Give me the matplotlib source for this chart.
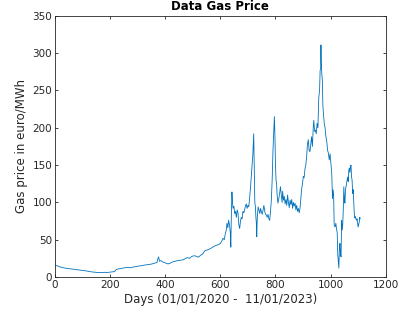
import matplotlib
matplotlib.use("Agg")
import matplotlib.pyplot as plt

days = [0, 3, 8, 15, 25, 35, 45, 52, 60, 70, 80, 90, 100, 110, 120, 130, 140, 150, 160, 170, 180, 190, 200, 210, 216, 222, 230, 240, 246, 255, 265, 275, 285, 295, 305, 315, 325, 335, 345, 355, 365, 370, 373, 376, 379, 385, 392, 400, 410, 418, 425, 435, 445, 455, 464, 472, 480, 488, 496, 504, 512, 520, 528, 536, 543, 550, 558, 566, 574, 582, 590, 597,
        600, 605, 610, 614, 618, 621, 624, 627, 630, 633, 636, 638, 640, 642, 644, 646, 649, 652, 655, 658, 661, 664, 667, 670, 673, 676, 679, 682, 685, 688, 691, 694, 697, 700, 703, 706, 709, 712, 715, 718, 720, 721, 723, 725, 727, 729, 731, 732, 734, 737, 740, 743, 746, 749, 752, 755, 758, 761, 764, 767, 770, 773, 776, 779, 782, 785, 788, 791, 794, 796, 798, 800, 802, 804, 806, 809, 812, 815, 818, 821, 824, 826, 829, 832, 835, 838, 841, 844, 847, 850, 853, 856, 859, 862, 865, 868, 871, 874, 877, 880, 883, 886, 889, 892, 895, 898, 901, 904, 907, 910, 913, 916, 919, 922, 925, 928, 931, 934, 937, 939, 942, 945, 948, 951, 954, 957, 960, 962, 964, 965, 966, 968, 970, 972, 974, 977, 980, 983, 986, 989, 992, 995, 998, 1001, 1004, 1007, 1009, 1011, 1013, 1016, 1019, 1022, 1024, 1026, 1028, 1030, 1032, 1034, 1036, 1038, 1040, 1042, 1044, 1046, 1048, 1050, 1052, 1054, 1056, 1058, 1060, 1062, 1064, 1066, 1068, 1070, 1072, 1074, 1076, 1078, 1080, 1082, 1084, 1086, 1088, 1090, 1092, 1094, 1096, 1098, 1100, 1102, 1104, 1106, 1107]

prices = [14.5, 15.5, 15, 14, 12.8, 12, 11.5, 11.2, 10.8, 10.2, 9.8, 9.3, 8.8, 8.4, 7.8, 7.0, 6.6, 6.2, 5.8, 6.0, 6.3, 6.1, 6.6, 7.0, 7.2, 10, 10.8, 11.5, 11.8, 12.5, 12.9, 12.4, 13.5, 14, 14.8, 15.2, 16, 16.5, 17, 17.8, 19, 19.5, 24, 27, 21, 22, 20, 19, 17.5, 18.5, 20, 21, 22, 22.5, 23, 24.5, 26, 25, 27.5, 28.5, 28, 26.5, 29, 31, 35, 36, 37, 38.5, 40.5, 42, 43, 44,
          45, 48, 52, 50, 58, 62, 72, 66, 76, 70, 60, 40, 85, 114, 100, 92, 95, 85, 88, 80, 90, 86, 70, 65, 75, 80, 78, 88, 86, 90, 95, 98, 92, 96, 94, 105, 118, 134, 150, 165, 185, 192, 150, 100, 95, 80, 70, 54, 80, 94, 90, 85, 92, 87, 84, 90, 96, 88, 84, 83, 80, 84, 78, 76, 88, 103, 130, 170, 195, 215, 190, 150, 130, 125, 110, 99, 105, 112, 121, 110, 100, 115, 103, 108, 98, 104, 96, 110, 100, 93, 103, 97, 104, 92, 100, 95, 99, 90, 96, 88, 92, 86, 92, 105, 118, 125, 135, 133, 145, 150, 161, 178, 184, 170, 168, 178, 188, 175, 200, 210, 195, 197, 192, 206, 200, 240, 250, 277, 280, 311, 290, 273, 264, 230, 219, 206, 200, 188, 182, 170, 166, 157, 165, 153, 140, 105, 117, 110, 70, 67, 72, 63, 60, 30, 20, 12, 40, 45, 30, 27, 76, 63, 70, 90, 121, 105, 99, 117, 121, 126, 130, 134, 128, 143, 146, 140, 148, 150, 134, 130, 112, 117, 100, 85, 79, 81, 78, 76, 78, 72, 67, 70, 74, 80, 78]

xticks = [0, 200, 400, 600, 800, 1000, 1200]
yticks = [0, 50, 100, 150, 200, 250, 300, 350]

gray = (0.15, 0.15, 0.15)
fig = plt.figure(figsize=(4.16, 3.15), dpi=100)
ax = fig.add_axes([0.1322, 0.1206, 0.795, 0.829])
ax.plot(days, prices, color=(0, 0.447, 0.741), linewidth=0.6)
ax.set_xlim(0, 1200)
ax.set_ylim(0, 350)
ax.set_xticks(xticks)
ax.set_yticks(yticks)
ax.tick_params(direction='in', length=2.5, width=0.6, labelsize=7.5, colors=gray,
               top=True, right=True, pad=2)
for s in ax.spines.values():
    s.set_color(gray)
    s.set_linewidth(0.6)
ax.set_xlabel('Days (01/01/2020 -  11/01/2023)', fontsize=8.5, color=gray, labelpad=2)
ax.set_ylabel('Gas price in euro/MWh', fontsize=8.5, color=gray, labelpad=3)
ax.set_title('Data Gas Price', fontsize=8.5, fontweight='bold', pad=4)
fig.savefig('out.png', dpi=100)
